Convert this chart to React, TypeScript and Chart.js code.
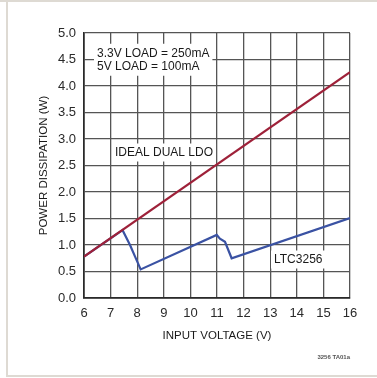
import React, { useEffect, useRef } from "react";
import { Chart, registerables } from "chart.js";

Chart.register(...registerables);

const idealX = [6, 16];
const idealY = [0.78, 4.26];
const ltcX = [6, 7.45, 7.73, 7.92, 8.13, 10.99, 11.11, 11.3, 11.55, 16];
const ltcY = [0.78, 1.28, 1.0, 0.78, 0.54, 1.19, 1.12, 1.06, 0.75, 1.51];
const xTitle = "INPUT VOLTAGE (V)";
const yTitle = "POWER DISSIPATION (W)";
const noteLines = ["3.3V LOAD = 250mA", "5V LOAD = 100mA"];
const idealLabel = "IDEAL DUAL LDO";
const ltcLabel = "LTC3256";
const figId = "3256 TA01a";

const FONT = "'Liberation Sans', Arial, sans-serif";

const framePlugin = {
  id: "frame",
  beforeDraw(chart: any) {
    const { ctx, width, height } = chart;
    ctx.save();
    ctx.fillStyle = "#ffffff";
    ctx.fillRect(0, 0, width, height);
    ctx.fillStyle = "#dedad3";
    ctx.fillRect(0, 0, width, 2);
    ctx.fillRect(6, 0, 2, height - 1);
    ctx.fillRect(6, 375, width - 6, 2);
    ctx.restore();
  },
};

const textPlugin = {
  id: "texts",
  afterDatasetsDraw(chart: any) {
    const { ctx } = chart;
    const area = chart.chartArea;
    ctx.save();
    ctx.textBaseline = "middle";
    ctx.textAlign = "left";
    ctx.font = `12px ${FONT}`;
    const boxed = (lines: string[], x: number, y: number, lh: number) => {
      let w = 0;
      lines.forEach((l) => (w = Math.max(w, ctx.measureText(l).width)));
      ctx.fillStyle = "#ffffff";
      ctx.fillRect(x - 3, y - lh / 2 - 3, w + 6, lh * lines.length + 5);
      ctx.fillStyle = "#1a1a1a";
      lines.forEach((l, i) => ctx.fillText(l, x, y + i * lh));
    };
    boxed(noteLines, 97, 53.5, 13.5);
    boxed([idealLabel], 115, 153, 13);
    boxed([ltcLabel], 274, 260, 13);

    ctx.fillStyle = "#1a1a1a";
    ctx.font = `11.5px ${FONT}`;
    ctx.textAlign = "center";
    ctx.fillText(xTitle, (area.left + area.right) / 2, 336);
    ctx.save();
    ctx.translate(44, (area.top + area.bottom) / 2);
    ctx.rotate(-Math.PI / 2);
    ctx.fillText(yTitle, 0, 0);
    ctx.restore();

    ctx.font = `bold 6px ${FONT}`;
    ctx.fillStyle = "#555555";
    ctx.textAlign = "right";
    ctx.fillText(figId, 350, 357);
    ctx.restore();
  },
};

export default function App() {
  const ref = useRef<HTMLCanvasElement>(null);
  useEffect(() => {
    if (!ref.current) return;
    const chart = new Chart(ref.current, {
      type: "line",
      data: {
        datasets: [
          {
            label: "IDEAL DUAL LDO",
            data: idealX.map((x, i) => ({ x, y: idealY[i] })),
            borderColor: "#9e2139",
            borderWidth: 2.2,
            pointRadius: 0,
            order: 0,
          },
          {
            label: "LTC3256",
            data: ltcX.map((x, i) => ({ x, y: ltcY[i] })),
            borderColor: "#3a52a3",
            borderWidth: 2.2,
            pointRadius: 0,
            order: 1,
          },
        ],
      },
      options: {
        responsive: false,
        animation: false,
        layout: { padding: { top: 33, right: 27, left: 0, bottom: 0 } },
        plugins: { legend: { display: false }, tooltip: { enabled: false } },
        scales: {
          x: {
            type: "linear",
            min: 6,
            max: 16,
            afterFit: (s: any) => {
              s.height = 80;
            },
            ticks: {
              stepSize: 1,
              padding: 8,
              color: "#2a2a2a",
              font: { family: FONT, size: 13 },
            },
            grid: { color: "#555555", lineWidth: 1.3, drawTicks: false },
            border: { color: "#2a2a2a", width: 1.7 },
          },
          y: {
            type: "linear",
            min: 0,
            max: 5,
            afterFit: (s: any) => {
              s.width = 84;
            },
            ticks: {
              stepSize: 0.5,
              padding: 8,
              color: "#2a2a2a",
              font: { family: FONT, size: 13 },
              callback: (v: any) => Number(v).toFixed(1),
            },
            grid: { color: "#555555", lineWidth: 1.3, drawTicks: false },
            border: { color: "#2a2a2a", width: 1.7 },
          },
        },
      },
      plugins: [framePlugin, textPlugin],
    });
    return () => chart.destroy();
  }, []);
  return (
    <div style={{ position: "fixed", left: 0, top: 0, width: 377, height: 378 }}>
      <canvas ref={ref} width={377} height={378} style={{ width: 377, height: 378 }} />
    </div>
  );
}
